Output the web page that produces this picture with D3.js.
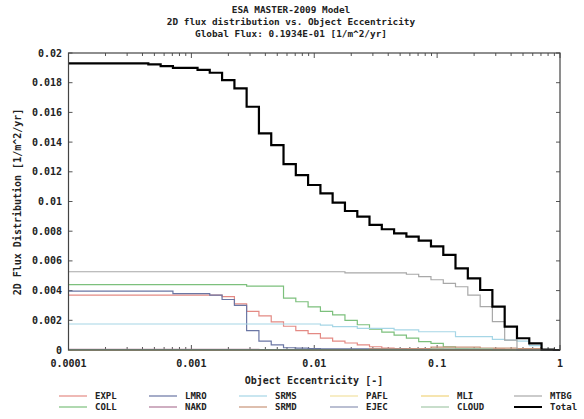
<!DOCTYPE html>
<html>
<head>
<meta charset="utf-8">
<script src="https://cdn.jsdelivr.net/npm/d3@7"></script>
<style>
  html, body { margin: 0; padding: 0; background: #fff; }
  svg { display: block; }
  text { font-family: "DejaVu Sans Mono", "Liberation Mono", monospace; font-weight: bold; fill: #222; }
</style>
</head>
<body>
<svg id="chart" width="584" height="419"></svg>
<script>
// Eccentricity bin centres (10 bins per decade)
const ecc = [
  0.0001, 0.000126, 0.000158, 0.0002, 0.000251, 0.000316, 0.000398, 0.000501, 0.000631, 0.000794,
  0.001, 0.00126, 0.00158, 0.002, 0.00251, 0.00316, 0.00398, 0.00501, 0.00631, 0.00794,
  0.01, 0.0126, 0.0158, 0.02, 0.0251, 0.0316, 0.0398, 0.0501, 0.0631, 0.0794,
  0.1, 0.126, 0.158, 0.2, 0.251, 0.316, 0.398, 0.501, 0.631, 0.794,
  1
];

// Flux per source [1/m^2/yr]
const expl = [0.0037,0.0037,0.0037,0.0037,0.0037,0.0037,0.0037,0.0037,0.0037,0.0037,0.0037,0.0037,0.0037,
  0.0036,0.0031,0.0026,0.0023,0.0019,0.0016,0.0013,0.0011,0.0008,0.0006,0.00047,0.00034,0.00022,0.00013,
  0.0001,0.0001,0.0001,0.0001,0.00006,0.00006,0.00006,0.00006,0.00006,0,0,0,0,0];
const coll = [0.0044,0.0044,0.0044,0.0044,0.0044,0.0044,0.0044,0.0044,0.0044,0.0044,0.0044,0.0044,0.0044,0.0044,0.0044,
  0.0043,0.0043,0.0043,0.0035,0.00325,0.0029,0.0026,0.00236,0.002,0.0017,0.0014,0.0012,0.001,0.0008,0.00056,
  0.00045,0.00022,0.00008,0.00006,0.00004,0.00002,0.00002,0.00002,0.00002,0,0];
const lmro = [0.00397,0.00397,0.00397,0.00397,0.00397,0.00397,0.00397,0.00397,0.00397,0.0038,0.0038,0.0038,
  0.0037,0.0034,0.0030,0.0013,0.0006,0.00034,0.00015,0.00012,0.0001,
  0.00008,0.00008,0.00008,0.00008,0.00008,0.00008,0.00008,0.00005,0.00005,0.00005,0.00005,0.00005,0.00005,
  0,0,0,0,0,0,0];
const nakd = [0.00004,0.00004,0.00004,0.00004,0.00004,0.00004,0.00004,0.00004,0.00004,0.00004,0.00004,0.00004,
  0.00004,0.00004,0.00004,0.00004,0,0,0,0,0,0,0,0,0,0,0,0,0,0,0,0,0,0,0,0,0,0,0,0,0];
const srms = [0.00175,0.00175,0.00175,0.00175,0.00175,0.00175,0.00175,0.00175,0.00175,0.00175,0.00175,0.00175,
  0.00175,0.00175,0.00175,0.00175,0.00175,0.00175,0.00175,0.00175,0.00175,
  0.00168,0.00157,0.00157,0.00146,0.00146,0.00146,0.00135,0.00135,0.00123,0.00123,0.00123,
  0.0009,0.0009,0.0009,0.00072,0.00067,0.0006,0.0003,0.00003,0];
const srmd = [0.00002,0.00002,0.00002,0.00002,0.00002,0.00002,0.00002,0.00002,0.00002,0.00002,0.00002,0.00002,
  0.00002,0.00002,0.00002,0.00002,0.00002,0.00002,0.00002,0.00002,0.00002,0.00002,0.00002,0.00002,0.00002,
  0.00008,0.00008,0.00008,0.00008,0.00008,0.0002,0.0002,0.0002,0.0002,0.00012,0.00012,0.00012,0.0001,0.0001,0,0];
const pafl = [0.00001,0.00001,0.00001,0.00001,0.00001,0.00001,0.00001,0.00001,0.00001,0.00001,0.00001,0.00001,
  0.00001,0.00001,0.00001,0.00001,0.00001,0.00001,0.00001,0.00001,0.00001,0.00001,0.00001,0.00001,0.00001,
  0.00001,0.00001,0.00001,0.00001,0.00001,0.00001,0,0,0,0,0,0,0,0,0,0];
const ejec = [0.00002,0.00002,0.00002,0.00002,0.00002,0.00002,0.00002,0.00002,0.00002,0.00002,0.00002,0.00002,
  0.00002,0.00002,0.00002,0.00002,0.00002,0.00002,0.00002,0.00002,0.00002,0,0,0,0,0,0,0,0,0,0,0,0,0,0,0,0,0,0,0,0];
const mli = [0.00001,0.00001,0.00001,0.00001,0.00001,0.00001,0.00001,0.00001,0.00001,0.00001,0.00001,0.00001,
  0.00001,0.00001,0.00001,0.00001,0.00001,0.00001,0.00001,0.00001,0.00001,0.00001,0.00001,0.00001,0.00001,
  0.00001,0.00001,0.00001,0.00001,0.00001,0.00001,0,0,0,0,0,0,0,0,0,0];
const cloud = [0.00002,0.00002,0.00002,0.00002,0.00002,0.00002,0.00002,0.00002,0.00002,0.00002,0.00002,0.00002,
  0.00002,0.00002,0.00002,0.00002,0.00002,0.00002,0.00002,0.00002,0.00002,0.00002,0.00002,0.00002,0.00002,
  0.00002,0.00002,0.00002,0.00002,0.00002,0.00008,0.00008,0.00008,0.00008,0.00008,0,0,0,0,0,0];
const mtbg = [0.00527,0.00527,0.00527,0.00527,0.00527,0.00527,0.00527,0.00527,0.00527,0.00527,0.00527,0.00527,
  0.00527,0.00527,0.00527,0.00527,0.00527,0.00527,0.00527,0.00527,0.00527,0.00527,0.00527,
  0.0052,0.0052,0.0052,0.0052,0.0052,0.0051,0.00494,0.00473,0.00449,0.00426,0.0037,0.00292,0.00191,0.00067,
  0,0,0,0];
const total = [0.0193,0.0193,0.0193,0.0193,0.0193,0.0193,0.0193,0.01924,0.01912,0.0190,0.0190,0.01886,0.01867,
  0.01818,0.01762,0.01638,0.01459,0.0138,0.01252,0.01178,0.01111,0.01055,0.00992,0.00936,0.00898,0.00842,
  0.00813,0.00786,0.00763,0.00736,0.00698,0.0064,0.0055,0.00483,0.00404,0.00292,0.00157,0.00079,0.00045,
  0.00003,0];

const seriesNames = ["EXPL","COLL","LMRO","NAKD","SRMS","SRMD","PAFL","EJEC","MLI","CLOUD","MTBG","Total"];
const seriesValues = [expl, coll, lmro, nakd, srms, srmd, pafl, ejec, mli, cloud, mtbg, total];
const seriesColors = ["#e48a84","#7cc07c","#6a76a4","#b07898","#a6d6e6","#c89478","#f2e2a0","#8c94b4","#f0d47c","#a4c8a8","#a8a8a8","#000000"];

const yTicks = [0, 0.002, 0.004, 0.006, 0.008, 0.01, 0.012, 0.014, 0.016, 0.018, 0.02];
const yTickLabels = ["0","0.002","0.004","0.006","0.008","0.01","0.012","0.014","0.016","0.018","0.02"];
const xTicks = [0.0001, 0.001, 0.01, 0.1, 1];
const xTickLabels = ["0.0001","0.001","0.01","0.1","1"];

const titleLines = ["ESA MASTER-2009 Model",
                    "2D flux distribution vs. Object Eccentricity",
                    "Global Flux: 0.1934E-01 [1/m^2/yr]"];

const svg = d3.select("#chart");
const plotLeft = 68.5, plotRight = 560, plotTop = 53, plotBottom = 350;

const x = d3.scaleLog().domain([1e-4, 1]).range([plotLeft, plotRight]);
const y = d3.scaleLinear().domain([0, 0.02]).range([plotBottom, plotTop]);

// Title
svg.append("g").selectAll("text").data(titleLines).join("text")
  .attr("x", 291).attr("y", (d, i) => 13 + i * 12)
  .attr("text-anchor", "middle").attr("font-size", "9.4px")
  .text(d => d);

// Minor log ticks on top and bottom edges
const minor = [];
for (let dec = -4; dec < 0; dec++) {
  for (let m = 2; m <= 9; m++) minor.push(m * Math.pow(10, dec));
}
const axisG = svg.append("g").attr("stroke", "#555").attr("stroke-width", 1);
minor.forEach(v => {
  axisG.append("line").attr("x1", x(v)).attr("x2", x(v)).attr("y1", plotBottom).attr("y2", plotBottom - 3);
  axisG.append("line").attr("x1", x(v)).attr("x2", x(v)).attr("y1", plotTop).attr("y2", plotTop + 3);
});
xTicks.forEach(v => {
  axisG.append("line").attr("x1", x(v)).attr("x2", x(v)).attr("y1", plotBottom).attr("y2", plotBottom - 5);
  axisG.append("line").attr("x1", x(v)).attr("x2", x(v)).attr("y1", plotTop).attr("y2", plotTop + 5);
});
yTicks.forEach(v => {
  axisG.append("line").attr("x1", plotLeft).attr("x2", plotLeft + 4).attr("y1", y(v)).attr("y2", y(v));
  axisG.append("line").attr("x1", plotRight).attr("x2", plotRight - 4).attr("y1", y(v)).attr("y2", y(v));
});

// Series lines (step shaped bins)
const line = d3.line()
  .x((d, i) => x(ecc[i]))
  .y(d => y(d))
  .curve(d3.curveStep);

const linesG = svg.append("g").attr("fill", "none");
seriesValues.forEach((vals, s) => {
  linesG.append("path")
    .attr("d", line(vals))
    .attr("stroke", seriesColors[s])
    .attr("stroke-width", seriesNames[s] === "Total" ? 2.2 : 1.2)
    .attr("stroke-linejoin", "miter");
});

// Frame
svg.append("rect")
  .attr("x", plotLeft).attr("y", plotTop)
  .attr("width", plotRight - plotLeft).attr("height", plotBottom - plotTop)
  .attr("fill", "none").attr("stroke", "#444").attr("stroke-width", 1.2);

// Tick labels
svg.append("g").selectAll("text").data(yTicks).join("text")
  .attr("x", 62).attr("y", d => y(d) + 3.5)
  .attr("text-anchor", "end").attr("font-size", "10px")
  .text((d, i) => yTickLabels[i]);

svg.append("g").selectAll("text").data(xTicks).join("text")
  .attr("x", d => x(d)).attr("y", 367)
  .attr("text-anchor", "middle").attr("font-size", "10px")
  .text((d, i) => xTickLabels[i]);

// Axis titles
svg.append("text")
  .attr("x", 314).attr("y", 384)
  .attr("text-anchor", "middle").attr("font-size", "10px")
  .text("Object Eccentricity [-]");

svg.append("text")
  .attr("transform", "translate(21,202) rotate(-90)")
  .attr("text-anchor", "middle").attr("font-size", "10px")
  .text("2D Flux Distribution [1/m^2/yr]");

// Legend: two rows, six columns
const legendLabelX = [95, 185, 275, 366, 457, 550];
const legendRowY = [399, 410];
const legendOrder = [
  ["EXPL","LMRO","SRMS","PAFL","MLI","MTBG"],
  ["COLL","NAKD","SRMD","EJEC","CLOUD","Total"]
];
const legG = svg.append("g");
legendOrder.forEach((row, r) => {
  row.forEach((name, c) => {
    const s = seriesNames.indexOf(name);
    const lx = legendLabelX[c];
    const ly = legendRowY[r];
    legG.append("line")
      .attr("x1", lx - 36).attr("x2", lx - 8)
      .attr("y1", ly - 3).attr("y2", ly - 3)
      .attr("stroke", seriesColors[s])
      .attr("stroke-width", name === "Total" ? 2 : 1.2);
    legG.append("text")
      .attr("x", lx).attr("y", ly)
      .attr("font-size", "9px")
      .text(name);
  });
});
</script>
</body>
</html>
